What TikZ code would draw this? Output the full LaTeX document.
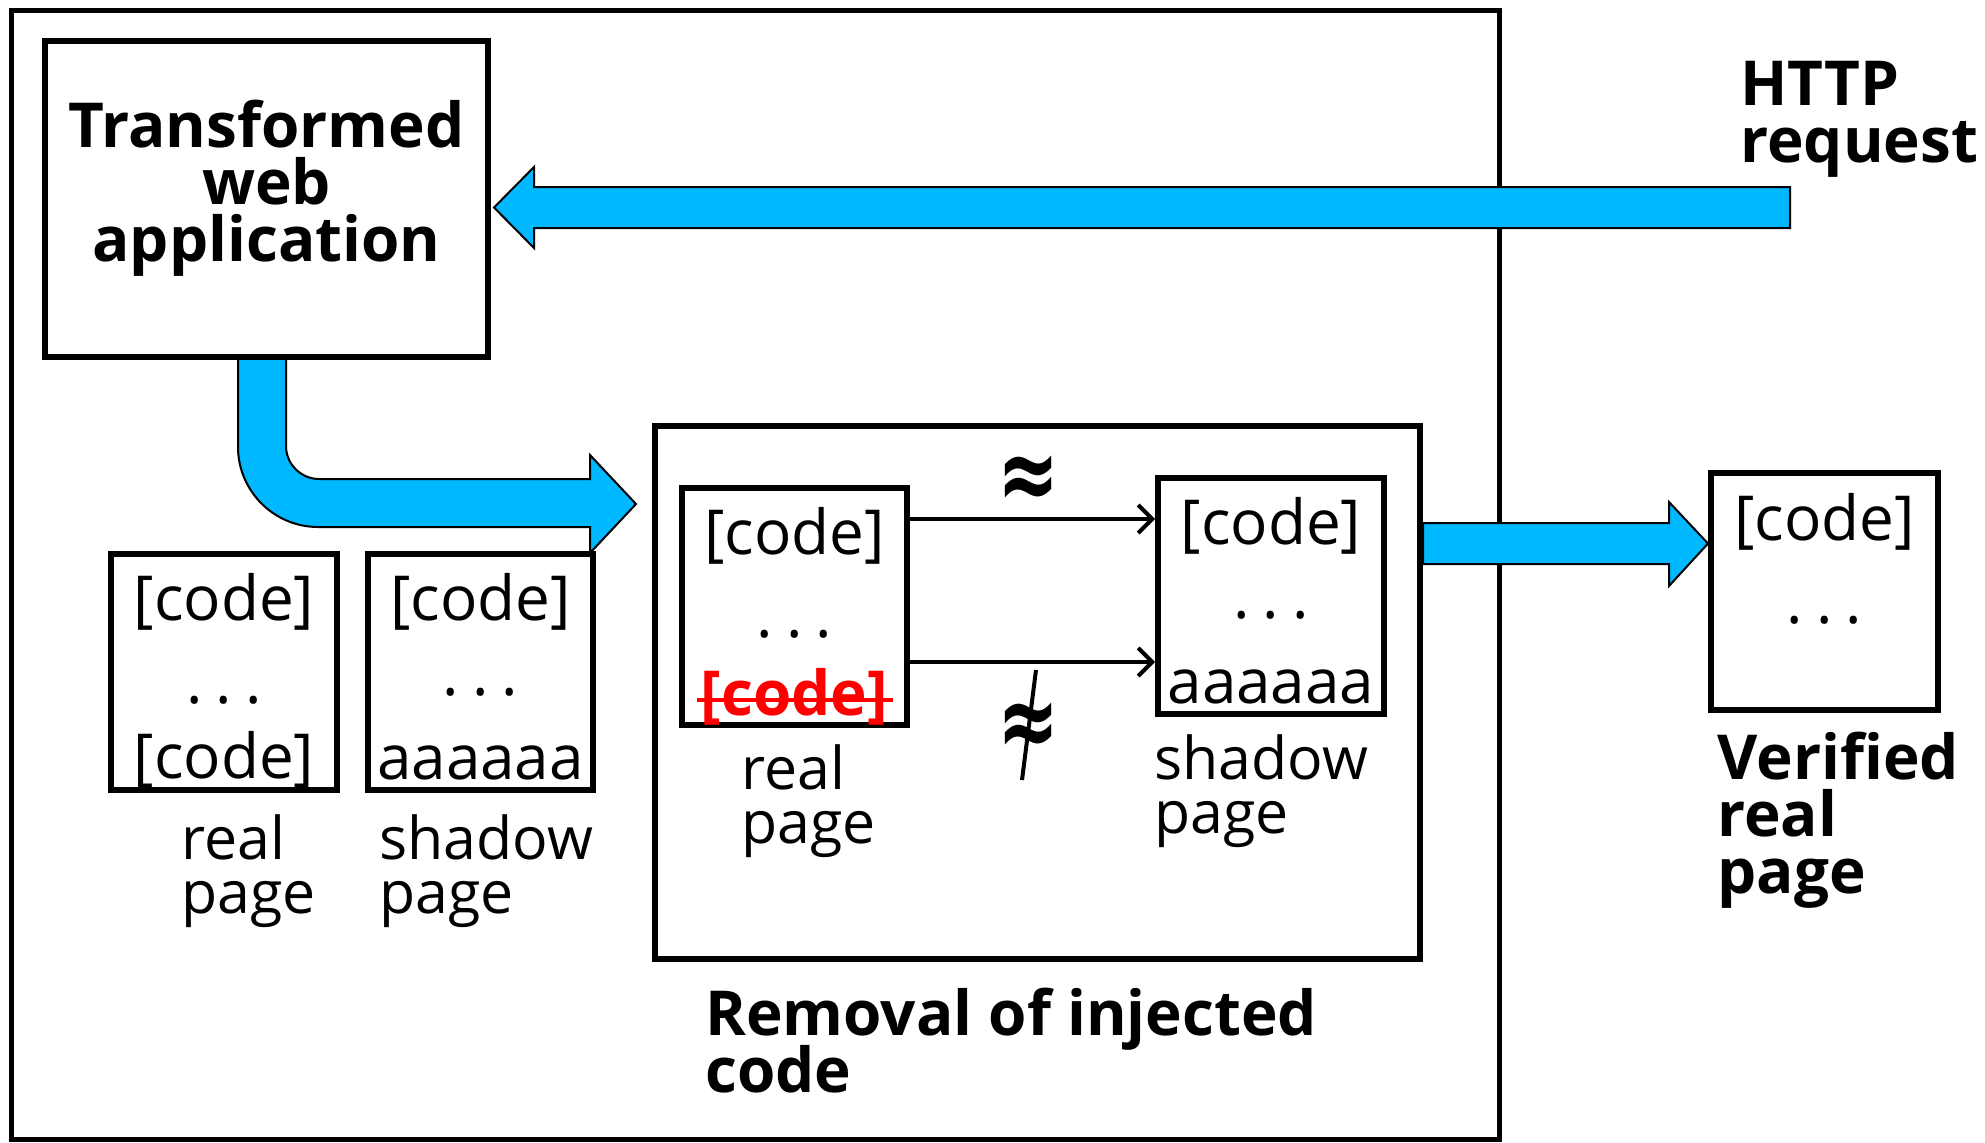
\documentclass[tikz,border=0pt]{standalone}
\usepackage{fontspec}
\setmainfont{Open Sans}
\newfontfamily\symfont{DejaVu Sans}
\usetikzlibrary{arrows.meta}
\definecolor{flowblue}{RGB}{0,184,255}
\definecolor{cutred}{RGB}{255,0,0}
\newcommand\boxfont{\fontsize{31}{32}\selectfont}
\newcommand\lblfont{\fontsize{29.5}{27}\selectfont\lineskiplimit=-100pt\lineskip=0pt\relax}
\newcommand\headfont{\fontsize{31}{28.5}\selectfont\bfseries\lineskiplimit=-100pt\lineskip=0pt\relax}
\newcommand\dotrow{.\kern6.5pt.\kern6.5pt.}
\begin{document}
\begin{tikzpicture}[x=0.5pt,y=-0.5pt,
  pagebox/.style={draw, line width=3pt, fill=white, rectangle, inner sep=0pt},
  framebox/.style={draw, line width=2.5pt, rectangle, inner sep=0pt},
  txt/.style={inner sep=0pt, font=\boxfont},
  lbl/.style={inner sep=0pt, font=\lblfont, align=left},
  head/.style={inner sep=0pt, font=\headfont},
  blockarrow/.style={draw=black, line width=1pt, fill=flowblue, line join=miter},
  thinarrow/.style={draw, line width=2pt, -{Straight Barb[length=7pt,width=14pt,line width=2pt]}},
]
\useasboundingbox (0,0) rectangle (1985,1142);

% outer frame
\node[framebox, minimum width=743.75pt, minimum height=564.5pt] (frame) at (755.25,574.5) {};

% block arrows
\coordinate (reqtip) at (494,207.5);
\coordinate (reqtail) at (1790,207.5);
\draw[blockarrow] (reqtip) -- ++(40,-40.5) -- ++(0,20) -- (reqtail |- 0,187) -- (reqtail |- 0,228)
  -- (534,228) -- (534,248) -- cycle;

\draw[blockarrow] (286,355) -- (286,446) .. controls (286,464) and (301,479) .. (319,479)
  -- (590,479) -- (590,455) -- (636,504) -- (590,553) -- (590,527)
  -- (318,527) .. controls (274,527) and (238,491) .. (238,447) -- (238,355) -- cycle;

\draw[blockarrow] (1423,523) -- (1669,523) -- (1669,502) -- (1708,543.5) -- (1669,586)
  -- (1669,564) -- (1423,564) -- cycle;

% application box
\node[pagebox, minimum width=221.5pt, minimum height=158pt] (app) at (266.5,199) {};
\node[head, align=center, anchor=base] (apptext) at (266.5,261) {Transformed\\web\\application};

% pages on the left
\node[pagebox, minimum width=113pt, minimum height=118pt] (lreal) at (224,672) {};
\node[pagebox, minimum width=112.5pt, minimum height=118pt] (lshadow) at (480.5,672) {};

% removal stage
\node[pagebox, minimum width=382.5pt, minimum height=266.5pt] (removal) at (1037.5,692.5) {};
\node[pagebox, minimum width=112.5pt, minimum height=118.5pt] (ireal) at (794.5,606.5) {};
\node[pagebox, minimum width=113pt, minimum height=118pt] (ishadow) at (1271,596) {};

% verified page
\node[pagebox, minimum width=113.5pt, minimum height=118.5pt] (verified) at (1824.5,591.5) {};

% page contents
\node[txt, anchor=base] (lrc1) at (224,620) {[code]};
\node[txt, anchor=base] (lrdots) at (224,703) {\dotrow};
\node[txt, anchor=base] (lrc2) at (224,778) {[code]};

\node[txt, anchor=base] (lsc1) at (480.5,620) {[code]};
\node[txt, anchor=base] (lsdots) at (480.5,695) {\dotrow};
\node[txt, anchor=base] (lsa) at (480.5,779) {aaaaaa};

\node[txt, anchor=base] (irc1) at (794.5,554) {[code]};
\node[txt, anchor=base] (irdots) at (794.5,637) {\dotrow};
\node[txt, anchor=base, text=cutred, font=\boxfont\bfseries] (cut) at (794.5,715) {[code]};
\draw[cutred, line width=2pt] ([xshift=-2pt,yshift=7.5pt]cut.base west) -- ([xshift=2pt,yshift=7.5pt]cut.base east);

\node[txt, anchor=base] (isc1) at (1271,544) {[code]};
\node[txt, anchor=base] (isdots) at (1271,618) {\dotrow};
\node[txt, anchor=base] (isa) at (1271,703) {aaaaaa};

\node[txt, anchor=base] (vc1) at (1824.5,540) {[code]};
\node[txt, anchor=base] (vdots) at (1824.5,623) {\dotrow};

% comparison arrows
\draw[thinarrow] ([yshift=43.75pt]ireal.east) -- ([yshift=43.75pt]ireal.east -| ishadow.west);
\draw[thinarrow] ([yshift=-27.75pt]ireal.east) -- ([yshift=-27.75pt]ireal.east -| ishadow.west);
\node[inner sep=0pt, font=\symfont\bfseries\fontsize{37}{37}\selectfont] (approx) at (1028,483) {\scalebox{1}[1.4]{≈}};
\node[inner sep=0pt, font=\symfont\bfseries\fontsize{37}{37}\selectfont] (napprox) at (1028,730) {\scalebox{1}[1.4]{≈}};
\coordinate (slashtop) at (1036,670);
\coordinate (slashbot) at (1022,780);
\draw[line width=2pt] (slashtop) -- (slashbot);

% labels (anchored at the baseline of their last line)
\node[lbl, anchor=base west] (lrlabel) at (181,913) {real\\page};
\node[lbl, anchor=base west] (lslabel) at (379,913) {shadow\\page};
\node[lbl, anchor=base west] (irlabel) at (741,843) {real\\page};
\node[lbl, anchor=base west] (islabel) at (1154,833) {shadow\\page};
\node[head, align=left, anchor=base west] (http) at (1740,162) {HTTP\\request};
\node[head, align=left, anchor=base west] (vlabel) at (1717,893) {Verified\\real\\page};
\node[head, align=left, anchor=base west] (rlabel) at (705,1092) {Removal of injected\\code};
\end{tikzpicture}
\end{document}
